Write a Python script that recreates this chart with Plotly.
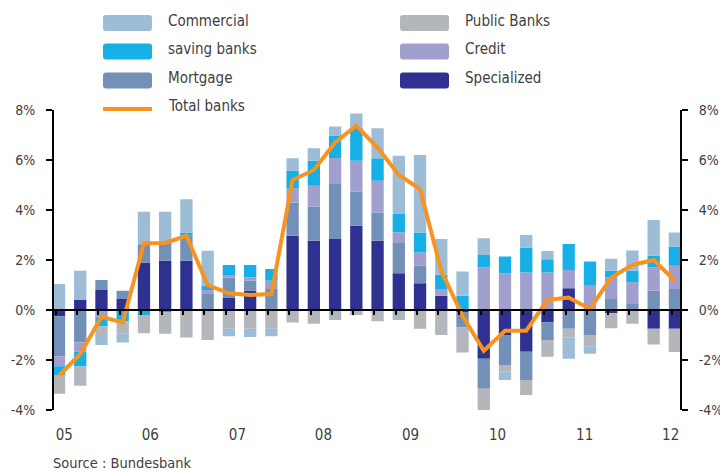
import plotly.graph_objects as go

# quarterly contributions to loan growth, % (2005Q1 .. 2012Q2)
quarters = [f"{y}Q{q}" for y in range(2005, 2013) for q in range(1, 5)][:30]

specialized = [-0.25, 0.4, 0.8, 0.44, 1.9, 1.97, 1.97, 0, 0.5, 0.77,
               0, 2.97, 2.77, 2.84, 3.37, 2.77, 1.47, 1.07, 0.57, -0.1,
               -1.95, -1.0, -1.67, -0.5, 0.87, 0, -0.13, 0, -0.75, -0.75]
mortgage = [-1.6, -1.3, 0.4, 0.33, 0.73, 0.73, 1.0, 0.67, 0.8, 0.4,
            0.87, 1.33, 1.36, 2.2, 1.37, 1.13, 1.24, 0.7, 0, -0.6,
            -1.2, -1.2, -1.13, -0.7, -0.75, -1.0, 0.44, 0.27, 0.77, 0.84]
credit = [-0.4, -0.36, -0.3, 0, 0, 0, 0, 0.13, 0.1, 0.13,
          0.3, 0.57, 0.84, 1.04, 1.23, 1.27, 0.4, 0.53, 0.27, 0,
          1.7, 1.47, 1.5, 1.5, 0.73, 0.97, 0.87, 0.84, 0.93, 0.93]
saving = [-0.35, -0.6, -0.35, -0.45, -0.2, -0.1, 0.13, 0.17, 0.4, 0.5,
          0.47, 0.7, 1.0, 0.9, 1.33, 0.9, 0.73, 0.8, 0.57, 0.57,
          0.5, 0.67, 1.0, 0.53, 1.04, 0.97, 0.27, 0.47, 0.47, 0.76]
public = [-0.75, -0.77, -0.35, -0.5, -0.73, -0.85, -1.1, -1.2, -0.75, -0.75,
          -0.75, -0.5, -0.55, -0.4, -0.2, -0.45, -0.4, -0.75, -1.0, -1.0,
          -0.85, -0.25, -0.6, -0.67, -0.35, -0.45, -0.6, -0.55, -0.63, -0.93]
commercial = [1.04, 1.17, -0.4, -0.35, 1.3, 1.23, 1.33, 1.4, -0.3, -0.33,
              -0.3, 0.5, 0.5, 0.36, 0.56, 1.2, 2.33, 3.1, 1.43, 0.97,
              0.67, -0.35, 0.5, 0.33, -0.85, -0.3, 0.47, 0.8, 1.43, 0.57]
total = [-2.63, -1.76, -0.27, -0.5, 2.67, 2.68, 2.97, 1.0, 0.67, 0.6,
         0.64, 5.2, 5.6, 6.7, 7.37, 6.5, 5.4, 4.84, 1.57, -0.23,
         -1.63, -0.83, -0.83, 0.4, 0.5, 0.04, 1.3, 1.8, 2.0, 1.17]

year_labels = ["05", "06", "07", "08", "09", "10", "11", "12"]
y_ticks = [-4, -2, 0, 2, 4, 6, 8]

COLORS = {
    "Specialized": "#2E3190",
    "Mortgage": "#7290B8",
    "Credit": "#A09FCD",
    "saving banks": "#16B0E6",
    "Public Banks": "#B3B6BB",
    "Commercial": "#9DBCD6",
}
ORANGE = "#F7931E"
FONT = "DejaVu Sans Condensed, Liberation Sans Narrow, sans-serif"
TXT = "#404040"

# the page body adds an 8px margin, so the figure is a bit smaller than the window
OFF = 8
W, H = 728 - OFF, 472 - OFF
L, R, T = 54 - OFF, 48, 110 - OFF
pw, ph = W - L - R, 300
B = H - T - ph


def px(x):
    # page pixel -> paper x
    return (x - OFF - L) / pw


def py(y):
    return (T + ph - (y - OFF)) / ph


def rounded_rect(x0, y0, x1, y1, r=3):
    # swatch path in paper coords, corners of r pixels
    a0, a1, b0, b1 = px(x0), px(x1), py(y1), py(y0)
    rx, ry = r / pw, r / ph
    return (f"M {a0 + rx} {b0} L {a1 - rx} {b0} Q {a1} {b0} {a1} {b0 + ry} "
            f"L {a1} {b1 - ry} Q {a1} {b1} {a1 - rx} {b1} L {a0 + rx} {b1} "
            f"Q {a0} {b1} {a0} {b1 - ry} L {a0} {b0 + ry} Q {a0} {b0} {a0 + rx} {b0} Z")


x = list(range(len(quarters)))
xr = [-0.235, len(quarters) - 1 + 0.24]

fig = go.Figure()
series = [("Specialized", specialized), ("Mortgage", mortgage), ("Credit", credit),
          ("saving banks", saving), ("Public Banks", public), ("Commercial", commercial)]
for name, vals in series:
    fig.add_trace(go.Bar(x=x, y=vals, name=name, marker_color=COLORS[name],
                         marker_line_width=0, showlegend=False))

fig.add_trace(go.Scatter(x=x, y=total, name="Total banks", mode="lines",
                         line=dict(color=ORANGE, width=4), xaxis="x2", yaxis="y2",
                         showlegend=False))

fig.update_layout(
    width=W, height=H,
    margin=dict(l=L, r=R, t=T, b=B, autoexpand=False),
    barmode="relative", bargap=0.42,
    plot_bgcolor="white", paper_bgcolor="white",
    font=dict(family=FONT, color=TXT, size=14),
    xaxis=dict(range=xr, tickvals=[0.25, 4.3, 8.4, 12.45, 16.55, 20.65, 24.75, 28.8],
               ticktext=year_labels, ticks="", showline=False, showgrid=False,
               zeroline=False, ticklabelstandoff=14, tickfont=dict(size=15),
               automargin=False),
    xaxis2=dict(range=xr, overlaying="x", anchor="free", position=1 / 3,
                showline=True, linecolor="black", linewidth=2,
                ticks="outside", ticklen=4, tickwidth=1.5, tickcolor="black",
                tickvals=[i - 0.15 for i in x], showticklabels=False,
                showgrid=False, zeroline=False, automargin=False),
    yaxis=dict(range=[-4, 8], tickvals=y_ticks, ticktext=[f"{v}%" for v in y_ticks],
               showline=True, linecolor="black", linewidth=2, ticks="outside",
               ticklen=6, tickwidth=2, tickcolor="black", showgrid=False,
               zeroline=False, ticklabelstandoff=8, automargin=False),
    yaxis2=dict(range=[-4, 8], overlaying="y", side="right", tickvals=y_ticks,
                ticktext=[f"{v}%" for v in y_ticks], showline=True, linecolor="black",
                linewidth=2, ticks="outside", ticklen=6, tickwidth=2, tickcolor="black",
                showgrid=False, zeroline=False, ticklabelstandoff=8, automargin=False),
)

# hand-drawn legend with wide swatches, two columns
legend_items = [("Commercial", 0, 0), ("saving banks", 0, 1), ("Mortgage", 0, 2),
                ("Total banks", 0, 3), ("Public Banks", 1, 0), ("Credit", 1, 1),
                ("Specialized", 1, 2)]
col_x = [103, 400]
row_y = [23, 51.5, 80.5, 109]
for name, c, r in legend_items:
    x0, yc = col_x[c], row_y[r]
    if name == "Total banks":
        fig.add_shape(type="line", xref="paper", yref="paper", x0=px(x0), x1=px(x0 + 49),
                      y0=py(yc), y1=py(yc), line=dict(color=ORANGE, width=4))
    else:
        fig.add_shape(type="path", xref="paper", yref="paper",
                      path=rounded_rect(x0, yc - 8, x0 + 49, yc + 8),
                      fillcolor=COLORS[name], line_width=0)
    fig.add_annotation(text=name, xref="paper", yref="paper", x=px(x0 + 63), y=py(yc - 2.5),
                       xanchor="left", yanchor="middle", showarrow=False,
                       font=dict(size=15, color=TXT))

fig.add_annotation(text="Source : Bundesbank", xref="paper", yref="paper",
                   x=px(51), y=py(463), xanchor="left", yanchor="middle",
                   showarrow=False, font=dict(size=14.5, color=TXT))

fig.write_html("out.html")
